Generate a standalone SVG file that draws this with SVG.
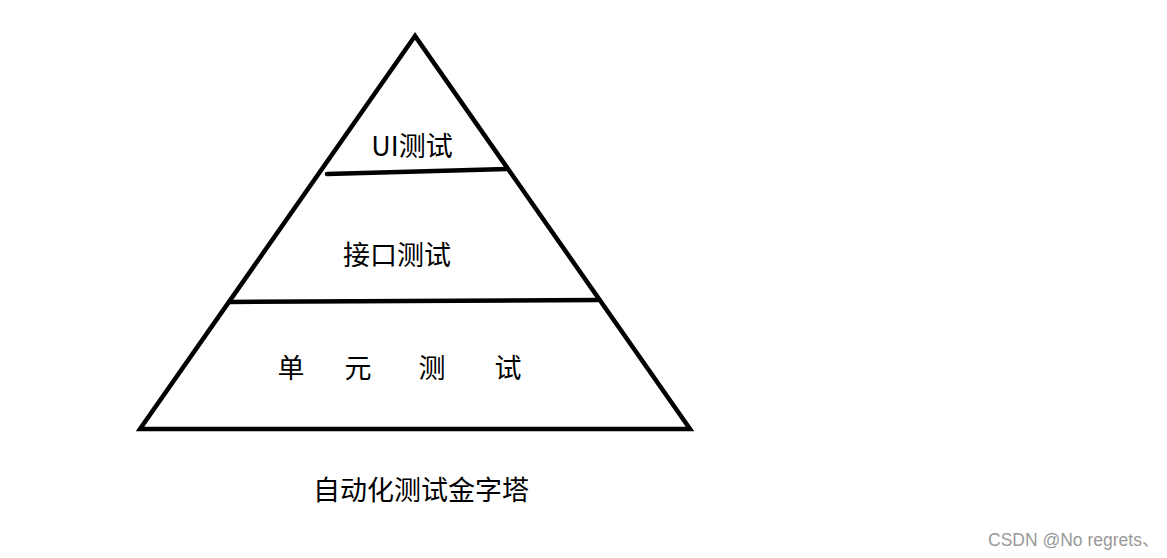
<svg xmlns="http://www.w3.org/2000/svg" width="1167" height="558" viewBox="0 0 1167 558">
<style>
.ln{stroke:#000;stroke-width:4.5;fill:none;stroke-linecap:round;stroke-linejoin:miter}
.t{font-family:"Noto Sans CJK SC","Liberation Sans",sans-serif;fill:#000}
.w{font-family:"Liberation Sans","Noto Sans CJK SC",sans-serif;fill:#999;font-size:17.5px}
</style>
<rect width="1167" height="558" fill="#fff"/>
<g id="pyramid">
<polygon class="ln" points="415,36 140,429 690,429"/>
</g>
<g id="connectors">
<line class="ln" x1="327" y1="174" x2="507" y2="169"/>
<line class="ln" x1="230" y1="302" x2="598" y2="300"/>
</g>
<g id="ui">
<text class="t" x="412" y="156" font-size="27" text-anchor="middle">UI测试</text>
</g>
<g id="api">
<text class="t" x="397" y="265" font-size="27" text-anchor="middle">接口测试</text>
</g>
<g id="unit">
<text class="t" x="291" y="378" font-size="27" text-anchor="middle">单</text>
<text class="t" x="358" y="378" font-size="27" text-anchor="middle">元</text>
<text class="t" x="432" y="378" font-size="27" text-anchor="middle">测</text>
<text class="t" x="508" y="378" font-size="27" text-anchor="middle">试</text>
</g>
<g id="caption">
<text class="t" x="421" y="500" font-size="27" text-anchor="middle">自动化测试金字塔</text>
</g>
<text class="w" x="988" y="546">CSDN @No regrets、</text>
</svg>
